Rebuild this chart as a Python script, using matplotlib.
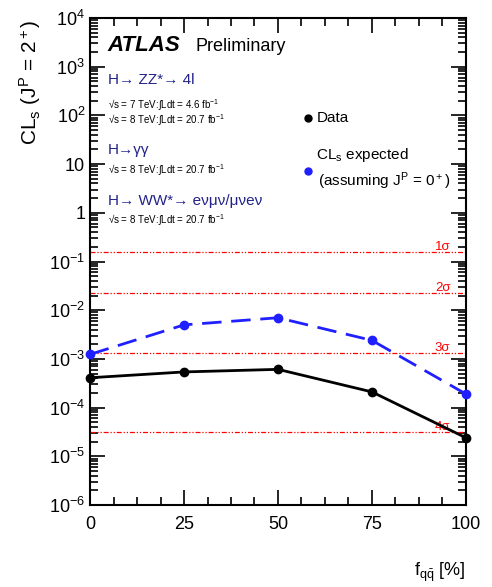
import numpy as np
import matplotlib
matplotlib.use('Agg')
import matplotlib.pyplot as plt
from matplotlib.ticker import FixedLocator, LogLocator, NullFormatter

plt.rcParams['font.family'] = ['Liberation Sans', 'DejaVu Sans']
plt.rcParams['mathtext.fontset'] = 'custom'
plt.rcParams['mathtext.rm'] = 'Liberation Sans'
plt.rcParams['mathtext.it'] = 'Liberation Sans:italic'
plt.rcParams['mathtext.bf'] = 'Liberation Sans:bold'

# qqbar fraction scan and CLs values
f_qq = [0, 25, 50, 75, 100]
cls_data = [4.1e-4, 5.4e-4, 6.1e-4, 2.1e-4, 2.4e-5]
cls_expected = [1.24e-3, 5.0e-3, 7.0e-3, 2.4e-3, 1.9e-4]

# one-sided p-values for 1..4 sigma
sigma_labels = ['1σ', '2σ', '3σ', '4σ']
sigma_pvals = [0.1587, 0.02275, 0.00135, 3.17e-5]

ytick_vals = [1e-6, 1e-5, 1e-4, 1e-3, 1e-2, 1e-1, 1, 10, 1e2, 1e3, 1e4]
ytick_text = ['$10^{-6}$', '$10^{-5}$', '$10^{-4}$', '$10^{-3}$', '$10^{-2}$',
              '$10^{-1}$', '1', '10', '$10^{2}$', '$10^{3}$', '$10^{4}$']

navy = '#22228a'

fig = plt.figure(figsize=(4.92, 5.87), dpi=100)
ax = fig.add_axes([0.183, 0.1397, 0.764, 0.9693 - 0.1397])

for p, lab in zip(sigma_pvals, sigma_labels):
    ax.axhline(p, color='red', lw=0.9, dashes=[4, 1.5, 1, 1.5, 1, 1.5])
    ax.text(93.8, p * 0.93, lab, color='red', fontsize=9.5, ha='center', va='bottom')

ax.plot(f_qq, cls_data, color='black', lw=2, marker='o', ms=6, zorder=3, clip_on=False)
ax.plot(f_qq, cls_expected, color='#1f1fff', lw=2, dashes=[7, 3.5], marker='o',
        ms=6, zorder=3, clip_on=False)

ax.set_yscale('log')
ax.set_ylim(1e-6, 1e4)
ax.set_xlim(0, 100)

ax.set_yticks(ytick_vals)
ax.set_yticklabels(ytick_text)
ax.yaxis.set_minor_locator(LogLocator(base=10, subs=np.arange(2, 10), numticks=20))
ax.yaxis.set_minor_formatter(NullFormatter())
ax.set_xticks([0, 25, 50, 75, 100])
ax.xaxis.set_minor_locator(FixedLocator(np.arange(0, 100.1, 6.25)))

ax.tick_params(which='both', direction='in', top=True, right=True, labelsize=13,
               width=1.2, colors='black')
ax.tick_params(which='major', length=11)
ax.tick_params(which='minor', length=6)
ax.tick_params(axis='x', which='major', pad=8)
for s in ax.spines.values():
    s.set_linewidth(1.5)

ax.set_ylabel(r'CL$_\mathrm{s}$ (J$^\mathrm{P}$ = 2$^+$)', fontsize=15)
ax.yaxis.set_label_coords(-0.125, 0.997)
ax.yaxis.label.set_horizontalalignment('right')
fig.text(0.947, 0.005, r'f$_{\mathrm{q\bar{q}}}$ [%]', fontsize=13, ha='right', va='bottom')

# ATLAS header and channel descriptions
fig.text(0.219, 0.913, 'ATLAS', fontsize=16, fontweight='bold', style='italic',
         va='baseline')
fig.text(0.397, 0.913, 'Preliminary', fontsize=13, va='baseline')

fig.text(0.219, 0.857, 'H→ ZZ*→ 4l', fontsize=11, color=navy, va='baseline')
fig.text(0.219, 0.815, '√s = 7 TeV:∫Ldt = 4.6 fb$^{-1}$', fontsize=7, va='baseline')
fig.text(0.219, 0.788, '√s = 8 TeV:∫Ldt = 20.7 fb$^{-1}$', fontsize=7, va='baseline')
fig.text(0.219, 0.737, 'H→γγ', fontsize=11, color=navy, va='baseline')
fig.text(0.219, 0.703, '√s = 8 TeV:∫Ldt = 20.7 fb$^{-1}$', fontsize=7, va='baseline')
fig.text(0.219, 0.651, 'H→ WW*→ eνμν/μνeν', fontsize=11, color=navy, va='baseline')
fig.text(0.219, 0.619, '√s = 8 TeV:∫Ldt = 20.7 fb$^{-1}$', fontsize=7, va='baseline')

# legend drawn by hand in figure coordinates
fig.lines.append(plt.Line2D([0.626], [0.799], marker='o', ms=5, color='black',
                            transform=fig.transFigure))
fig.text(0.643, 0.799, 'Data', fontsize=11, va='center')
fig.lines.append(plt.Line2D([0.626], [0.708], marker='o', ms=5, color='#1f1fff',
                            transform=fig.transFigure))
fig.text(0.643, 0.736, r'CL$_\mathrm{s}$ expected', fontsize=11, va='center')
fig.text(0.647, 0.692, r'(assuming J$^\mathrm{P}$ = 0$^+$)', fontsize=11, va='center')

fig.savefig('out.png', dpi=100)
